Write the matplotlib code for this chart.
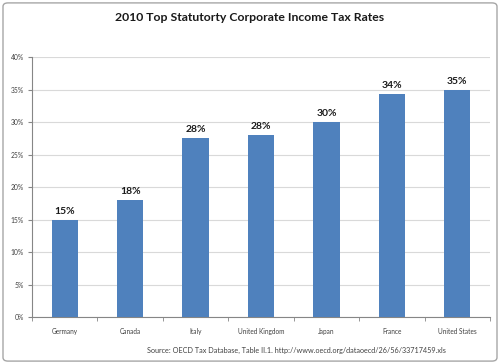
import matplotlib
matplotlib.use("Agg")
import matplotlib.pyplot as plt
from matplotlib.patches import FancyBboxPatch
from matplotlib.ticker import FuncFormatter, FixedLocator

countries = ["Germany", "Canada", "Italy", "United Kingdom", "Japan", "France", "United States"]
rates = [15.0, 18.0, 27.5, 28.0, 30.0, 34.4, 35.0]
yticks = [0, 5, 10, 15, 20, 25, 30, 35, 40]
title = "2010 Top Statutorty Corporate Income Tax Rates"
source = "Source: OECD Tax Database, Table II.1. http://www.oecd.org/dataoecd/26/56/33717459.xls"

plt.rcParams['font.family'] = ['Lato', 'DejaVu Sans']

fig = plt.figure(figsize=(5.0, 3.64), dpi=100)
border = FancyBboxPatch((0.006, 0.008), 0.988, 0.984, boxstyle="round,pad=0,rounding_size=0.01",
                        transform=fig.transFigure, facecolor="none", edgecolor="#a6a6a6",
                        linewidth=1.0, zorder=-1)
fig.patches.append(border)

ax = fig.add_axes([0.064, 0.129, 0.916, 0.714])
ax.set_zorder(1)
x = list(range(len(countries)))
bars = ax.bar(x, rates, width=0.4, color="#4f81bd", zorder=3)
for xi, v in zip(x, rates):
    ax.text(xi, v + 0.6, f"{v:.0f}%", ha="center", va="bottom", fontsize=7.5,
            fontweight="bold", color="#1a1a1a")

ax.set_xlim(-0.5, len(countries) - 0.5)
ax.set_ylim(0, 40)
ax.set_yticks(yticks)
ax.yaxis.set_major_formatter(FuncFormatter(lambda v, p: f"{v:.0f}%"))
ax.set_xticks(x)
ax.set_xticklabels(countries)
ax.xaxis.set_minor_locator(FixedLocator([i + 0.5 for i in range(-1, len(countries))]))
ax.tick_params(axis="x", which="major", length=0, labelsize=4.7, colors="#404040", pad=8)
ax.tick_params(axis="x", which="minor", length=3, color="#868686", direction="out")
ax.tick_params(axis="y", length=3, labelsize=4.9, colors="#404040", color="#868686", pad=3)
ax.grid(axis="y", color="#d9d9d9", linewidth=0.8, zorder=0)
for s in ["top", "right"]:
    ax.spines[s].set_visible(False)
ax.spines["left"].set_color("#868686")
ax.spines["bottom"].set_color("#868686")
ax.patch.set_alpha(0)

fig.text(0.5, 0.953, title, ha="center", va="center", fontsize=8.8, fontweight="bold", color="#1a1a1a")
fig.text(0.592, 0.038, source, ha="center", va="center", fontsize=5.2, color="#404040")

fig.savefig("out.png", dpi=100)
